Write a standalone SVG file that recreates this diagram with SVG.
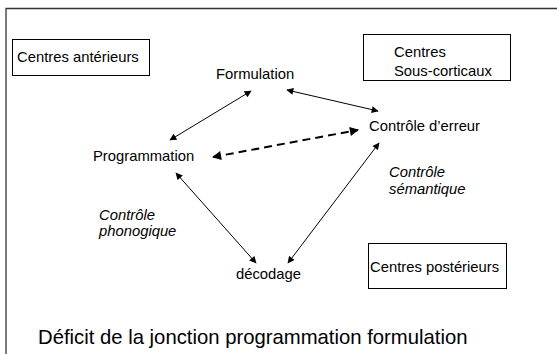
<svg xmlns="http://www.w3.org/2000/svg" width="557" height="354" viewBox="0 0 557 354">
  <style>
    text { font-family: "Liberation Sans", Arial, sans-serif; font-size: 14.8px; fill: #000; }
    .it { font-style: italic; }
    .big { font-size: 20.3px; }
    .box { fill: #fff; stroke: #000; stroke-width: 1; }
    .conn { fill: none; stroke: #000; stroke-width: 1; }
    .dash { fill: none; stroke: #000; stroke-width: 2; stroke-dasharray: 8 5; }
    .frame { fill: none; stroke: #333; stroke-width: 1.3; }
  </style>
  <defs>
    <marker id="ah" viewBox="0 0 10 10" refX="9" refY="5" markerWidth="8" markerHeight="7" markerUnits="userSpaceOnUse" orient="auto-start-reverse">
      <path d="M0,0 L10,5 L0,10 z" fill="#000"/>
    </marker>
    <marker id="ahb" viewBox="0 0 10 10" refX="9" refY="5" markerWidth="11" markerHeight="9" markerUnits="userSpaceOnUse" orient="auto-start-reverse">
      <path d="M0,0 L10,5 L0,10 z" fill="#000"/>
    </marker>
  </defs>
  <rect width="557" height="354" fill="#fff"/>
  <path class="frame" d="M6,354 L6,8.5 L557,8.5"/>

  <g id="centres-anterieurs">
    <rect class="box" x="12.5" y="39.5" width="137" height="36"/>
    <text x="17" y="62">Centres antérieurs</text>
  </g>
  <g id="centres-sous-corticaux">
    <rect class="box" x="363.5" y="34.5" width="147" height="46"/>
    <text x="394" y="57">Centres</text>
    <text x="394" y="76">Sous-corticaux</text>
  </g>
  <g id="centres-posterieurs">
    <rect class="box" x="368.5" y="243.5" width="138" height="45"/>
    <text x="370" y="272">Centres postérieurs</text>
  </g>
  <g id="formulation">
    <text x="216" y="79">Formulation</text>
  </g>
  <g id="controle-erreur">
    <text x="369" y="131">Contrôle d’erreur</text>
  </g>
  <g id="programmation">
    <text x="93" y="161">Programmation</text>
  </g>
  <g id="decodage">
    <text x="236" y="279">décodage</text>
  </g>
  <g id="label-phonogique">
    <text class="it" x="99" y="220">Contrôle</text>
    <text class="it" x="99" y="236">phonogique</text>
  </g>
  <g id="label-semantique">
    <text class="it" x="389" y="177">Contrôle</text>
    <text class="it" x="389" y="194">sémantique</text>
  </g>
  <g id="connectors">
    <line class="conn" x1="251" y1="91" x2="170" y2="140" marker-start="url(#ah)" marker-end="url(#ah)"/>
    <line class="conn" x1="287" y1="90" x2="378" y2="111" marker-start="url(#ah)" marker-end="url(#ah)"/>
    <line class="dash" x1="213" y1="157" x2="358" y2="130" marker-start="url(#ahb)" marker-end="url(#ahb)"/>
    <line class="conn" x1="176" y1="173" x2="256" y2="263" marker-start="url(#ah)" marker-end="url(#ah)"/>
    <line class="conn" x1="379" y1="143" x2="288" y2="263" marker-start="url(#ah)" marker-end="url(#ah)"/>
  </g>
  <g id="caption">
    <text class="big" x="38" y="344">Déficit de la jonction programmation formulation</text>
  </g>
</svg>
